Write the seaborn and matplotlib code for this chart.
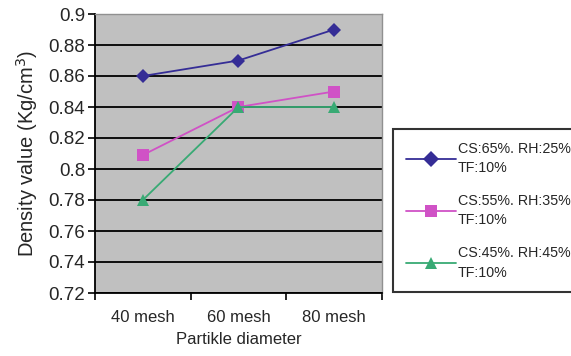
import matplotlib
matplotlib.use("Agg")
import matplotlib.pyplot as plt
import seaborn as sns
import pandas as pd
from matplotlib.ticker import FixedLocator, FuncFormatter

categories = ["40 mesh", "60 mesh", "80 mesh"]
series_labels = ["CS:65%. RH:25%\nTF:10%", "CS:55%. RH:35%\nTF:10%", "CS:45%. RH:45%\nTF:10%"]
s1 = [0.86, 0.87, 0.89]
s2 = [0.809, 0.84, 0.85]
s3 = [0.78, 0.84, 0.84]
colors = ["#352D96", "#D052C6", "#38AA74"]
markers = ["D", "s", "^"]

rows = []
for lab, vals in zip(series_labels, [s1, s2, s3]):
    for c, v in zip(categories, vals):
        rows.append({"cat": c, "val": v, "series": lab})
df = pd.DataFrame(rows)

sns.set_style("white")
plt.rcParams["font.family"] = ["Liberation Sans", "DejaVu Sans"]

fig = plt.figure(figsize=(5.71, 3.56), dpi=100)
ax = fig.add_axes([95/571, 1 - 293/356, (382-95)/571, (293-14)/356])
ax.set_facecolor("#C0C0C0")

sns.lineplot(data=df, x="cat", y="val", hue="series", style="series",
             palette=colors, markers=markers, dashes=False, markersize=8,
             markeredgewidth=0, linewidth=1.3, ax=ax, sort=False)
ax.lines[0].set_markersize(7.5)

ax.set_xlim(-0.5, 2.5)
ax.set_ylim(0.72, 0.9)
yt = [0.72 + 0.02 * i for i in range(10)]
ax.set_yticks(yt)
ax.yaxis.set_major_formatter(FuncFormatter(lambda v, p: "%g" % round(v, 2)))
ax.yaxis.grid(True, color="black", linewidth=1.3)
ax.set_axisbelow(True)

ax.xaxis.set_major_locator(FixedLocator([-0.5, 0.5, 1.5, 2.5]))
ax.xaxis.set_major_formatter(FuncFormatter(lambda v, p: ""))
ax.xaxis.set_minor_locator(FixedLocator([0, 1, 2]))
ax.set_xticklabels(categories, minor=True)
ax.tick_params(axis="x", which="minor", length=0, labelsize=12, pad=12)
ax.tick_params(axis="x", which="major", length=5, width=1.2, direction="out", color="black", bottom=True)
ax.tick_params(axis="y", length=5, width=1.2, direction="out", color="black", labelsize=13.5, pad=2, left=True)

for side in ["left", "bottom"]:
    ax.spines[side].set_color("black")
    ax.spines[side].set_linewidth(1.3)
for side in ["top", "right"]:
    ax.spines[side].set_color("#909090")
    ax.spines[side].set_linewidth(1.0)

ax.set_xlabel("Partikle diameter", fontsize=12, labelpad=5)
ax.set_ylabel("Density value (Kg/cm$^3$)", fontsize=14.5, labelpad=6)

handles, labels = ax.get_legend_handles_labels()
ax.get_legend().remove()
leg = fig.legend(handles, labels, loc="upper left", bbox_to_anchor=(393/571, 1 - 129/356),
                 frameon=True, fancybox=False, edgecolor="black", fontsize=10.3,
                 handlelength=3.5, handletextpad=0.15, labelspacing=1.3,
                 borderpad=0.9, borderaxespad=0)
leg.get_frame().set_linewidth(1.5)
for t in leg.get_texts():
    t.set_linespacing(1.5)

fig.savefig("out.png", dpi=100)
